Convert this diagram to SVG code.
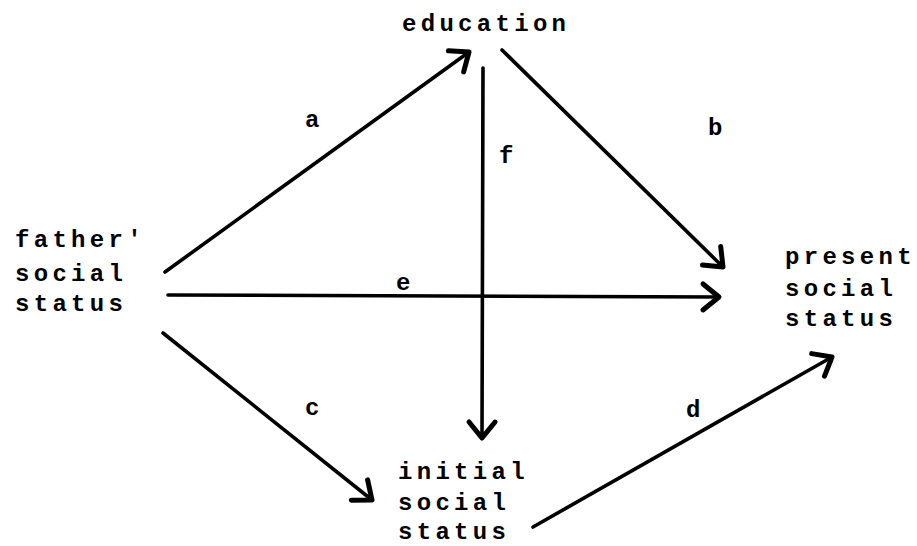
<svg xmlns="http://www.w3.org/2000/svg" width="917" height="546" viewBox="0 0 917 546">
<style>
text{font-family:"Liberation Mono","DejaVu Sans Mono",monospace;font-size:24px;font-weight:bold;fill:#000;letter-spacing:4.3px}
.c line{stroke:#000;stroke-width:3.6;stroke-linecap:round}
</style>
<defs>
<marker id="ah" markerUnits="userSpaceOnUse" viewBox="-22 -16 26 32" refX="0" refY="0" markerWidth="26" markerHeight="32" orient="auto" overflow="visible">
<path d="M-16,-13 L0,0 L-16,13" fill="none" stroke="#000" stroke-width="5" stroke-linecap="round" stroke-linejoin="round"/>
</marker>
</defs>
<rect width="917" height="546" fill="#fff"/>
<g class="c" id="connectors">
<line x1="165" y1="272" x2="469" y2="52" marker-end="url(#ah)"/>
<line x1="502" y1="50" x2="723" y2="267" marker-end="url(#ah)"/>
<line x1="483" y1="68" x2="482" y2="438" marker-end="url(#ah)"/>
<line x1="168" y1="295" x2="719" y2="297" marker-end="url(#ah)"/>
<line x1="163" y1="333" x2="372" y2="500" marker-end="url(#ah)"/>
<line x1="533" y1="527" x2="832" y2="357" marker-end="url(#ah)"/>
</g>
<g id="labels">
<text x="305" y="127">a</text>
<text x="708" y="135">b</text>
<text x="305" y="415">c</text>
<text x="686" y="417">d</text>
<text x="396" y="290">e</text>
<text x="499" y="163">f</text>
</g>
<g id="education"><text x="402" y="31">education</text></g>
<g id="father"><text x="15" y="247">father′</text><text x="15" y="281">social</text><text x="15" y="311">status</text></g>
<g id="present"><text x="785" y="264">present</text><text x="785" y="296">social</text><text x="785" y="326">status</text></g>
<g id="initial"><text x="398" y="479">initial</text><text x="398" y="510">social</text><text x="398" y="539">status</text></g>
</svg>
